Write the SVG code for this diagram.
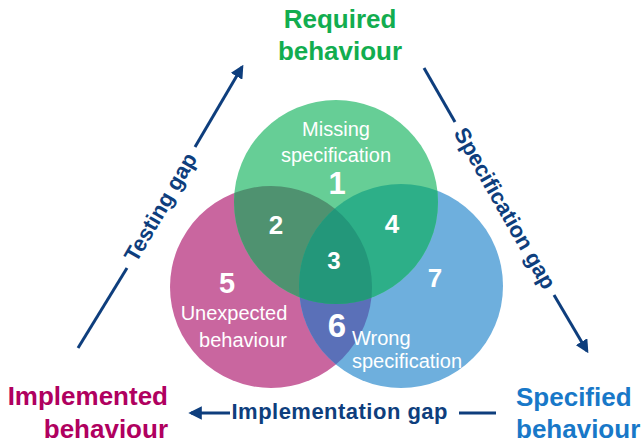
<svg xmlns="http://www.w3.org/2000/svg" width="642" height="447" viewBox="0 0 642 447">
  <style>
    .title { font-family: "Liberation Sans", Arial, sans-serif; font-weight: bold; font-size: 26px; }
    .gap { font-family: "Liberation Sans", Arial, sans-serif; font-weight: bold; font-size: 22px; fill: #0E3E7D; }
    .lbl { font-family: "Liberation Sans", Arial, sans-serif; font-size: 20px; fill: #ffffff; }
    .num { font-family: "Liberation Sans", Arial, sans-serif; font-weight: bold; fill: #ffffff; text-anchor: middle; }
    .conn { stroke: #0E3E7D; stroke-width: 3; fill: none; }
  </style>
  <defs>
    <marker id="arrow" viewBox="0 0 10 10" refX="8" refY="5" markerWidth="4.5" markerHeight="4.5" orient="auto" markerUnits="strokeWidth">
      <path d="M0,0 L10,5 L0,10 z" fill="#0E3E7D"/>
    </marker>
    <circle id="cGreen" cx="336" cy="202" r="102"/>
    <circle id="cPink" cx="271" cy="287" r="101"/>
    <circle id="cBlue" cx="401" cy="286" r="102"/>
    <clipPath id="clipGreen"><use href="#cGreen"/></clipPath>
    <clipPath id="clipPink"><use href="#cPink"/></clipPath>
  </defs>

  <!-- Venn circles with explicit overlap colours -->
  <g id="venn">
    <use href="#cPink" fill="#C9669F"/>
    <use href="#cBlue" fill="#6EAFDD"/>
    <use href="#cGreen" fill="#66CE96"/>
    <use href="#cBlue" fill="#5A70B8" clip-path="url(#clipPink)"/>
    <g clip-path="url(#clipGreen)">
      <use href="#cPink" fill="#4F9270"/>
      <use href="#cBlue" fill="#2DAF88"/>
      <use href="#cBlue" fill="#23977A" clip-path="url(#clipPink)"/>
    </g>
  </g>

  <!-- Region labels -->
  <g id="region-1">
    <text class="lbl" x="336" y="136" text-anchor="middle">Missing</text>
    <text class="lbl" x="336" y="162" text-anchor="middle">specification</text>
    <text class="num" x="337" y="194" font-size="31">1</text>
  </g>
  <g id="region-2"><text class="num" x="276" y="234" font-size="26">2</text></g>
  <g id="region-3"><text class="num" x="334" y="269" font-size="24">3</text></g>
  <g id="region-4"><text class="num" x="392" y="233" font-size="26">4</text></g>
  <g id="region-5">
    <text class="num" x="227" y="293" font-size="29">5</text>
    <text class="lbl" x="234" y="320" text-anchor="middle">Unexpected</text>
    <text class="lbl" x="243" y="347" text-anchor="middle">behaviour</text>
  </g>
  <g id="region-6"><text class="num" x="337" y="337" font-size="33">6</text></g>
  <g id="region-7">
    <text class="num" x="435" y="287" font-size="26">7</text>
    <text class="lbl" x="352" y="345">Wrong</text>
    <text class="lbl" x="352" y="368">specification</text>
  </g>

  <!-- Corner nodes -->
  <g id="required">
    <text class="title" x="340" y="28" text-anchor="middle" fill="#12AD4F">Required</text>
    <text class="title" x="340" y="60" text-anchor="middle" fill="#12AD4F">behaviour</text>
  </g>
  <g id="implemented">
    <text class="title" x="168" y="405" text-anchor="end" fill="#B0005F">Implemented</text>
    <text class="title" x="168" y="438" text-anchor="end" fill="#B0005F">behaviour</text>
  </g>
  <g id="specified">
    <text class="title" x="516" y="406" fill="#1878C8">Specified</text>
    <text class="title" x="516" y="438" fill="#1878C8">behaviour</text>
  </g>

  <!-- Gap connectors -->
  <g id="connectors">
    <line class="conn" x1="78" y1="348" x2="127" y2="268"/>
    <line class="conn" x1="195" y1="147" x2="242" y2="67" marker-end="url(#arrow)"/>
    <text class="gap" transform="translate(161,207.5) rotate(-59.7)" x="0" y="7" text-anchor="middle">Testing gap</text>

    <line class="conn" x1="424" y1="68" x2="455" y2="122"/>
    <line class="conn" x1="554" y1="295" x2="587" y2="351" marker-end="url(#arrow)"/>
    <text class="gap" transform="translate(504.5,208.5) rotate(60.2)" x="0" y="7" text-anchor="middle" font-size="21">Specification gap</text>

    <line class="conn" x1="496" y1="413" x2="459" y2="413"/>
    <line class="conn" x1="230" y1="413" x2="191" y2="413" marker-end="url(#arrow)"/>
    <text class="gap" x="339.5" y="419" text-anchor="middle" textLength="216">Implementation gap</text>
  </g>
</svg>
